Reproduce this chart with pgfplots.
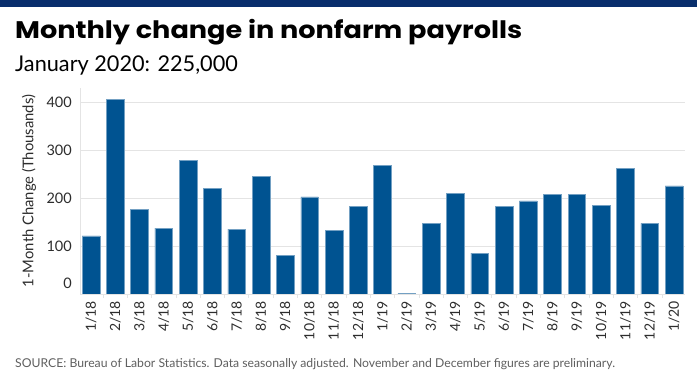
\documentclass[border=0pt]{standalone}
\usepackage{pgfplots}
\pgfplotsset{compat=1.18}
\usepackage{fontspec}
\setmainfont{Lato}
\newfontfamily\titlefont{Poppins}
\definecolor{navy}{RGB}{8,46,108}
\definecolor{barblue}{RGB}{0,83,145}
\definecolor{gridgray}{RGB}{228,228,228}
\definecolor{txtgray}{RGB}{45,45,45}
\definecolor{srcgray}{RGB}{95,95,95}
\begin{document}
\begin{tikzpicture}
\fill[white] (0pt,0pt) rectangle (697pt,382pt);
\path[use as bounding box] (0pt,0pt) rectangle (697pt,382pt);
\fill[navy] (0pt,375pt) rectangle (697pt,382pt);
\node[anchor=base west, inner sep=0pt] at (15pt,343pt) {\scalebox{1.13}[1]{\titlefont\bfseries\fontsize{24}{28}\selectfont Monthly change in nonfarm payrolls}};
\node[anchor=base west, inner sep=0pt] at (15pt,310.3pt) {\fontsize{21.7}{26}\selectfont January 2020: 225,000};
\node[anchor=base west, inner sep=0pt, text=srcgray] at (15pt,14pt) {\fontsize{12.2}{14}\selectfont SOURCE: Bureau of Labor Statistics. Data seasonally adjusted. November and December figures are preliminary.};
\node[rotate=90, text=txtgray, inner sep=0pt] at (29pt,191pt) {\fontsize{14.8}{17}\selectfont 1-Month Change (Thousands)};
\begin{axis}[
  at={(80pt,88pt)}, anchor=south west,
  scale only axis, width=605pt, height=206pt,
  xmin=-0.45, xmax=24.45, ymin=0, ymax=429,
  xtick={0,...,24},
  xticklabels={1/18,2/18,3/18,4/18,5/18,6/18,7/18,8/18,9/18,10/18,11/18,12/18,1/19,2/19,3/19,4/19,5/19,6/19,7/19,8/19,9/19,10/19,11/19,12/19,1/20},
  ytick={0,100,200,300,400},
  yticklabels={\raisebox{5pt}[0pt][0pt]{0},100,200,300,400},
  ymajorgrids, grid style={gridgray, line width=0.8pt},
  axis x line*=bottom, axis y line*=left,
  axis line style={gridgray, line width=0.8pt, -},
  major tick length=0pt,
  minor xtick={-0.5,0.5,...,24.5},
  minor tick length=4pt, tick align=outside,
  minor tick style={gridgray, line width=0.8pt},
  xticklabel style={rotate=90, anchor=east, inner sep=0pt, font=\fontsize{14}{16}\selectfont, text=txtgray},
  xticklabel shift=7pt,
  yticklabel style={anchor=east, inner sep=0pt, font=\fontsize{14.5}{16}\selectfont, text=txtgray},
  yticklabel shift=8pt,
  /pgf/number format/assume math mode=true,
]
\addplot[ybar, bar width=17.7pt, fill=barblue, draw=barblue!55!white, line width=0.5pt] coordinates {
(0,121) (1,406) (2,176) (3,137) (4,278) (5,220) (6,135) (7,245) (8,81) (9,202) (10,133) (11,183)
(12,268) (13,1) (14,147) (15,210) (16,85) (17,183) (18,194) (19,208) (20,208) (21,185) (22,261) (23,147) (24,225)
};
\end{axis}
\end{tikzpicture}
\end{document}
